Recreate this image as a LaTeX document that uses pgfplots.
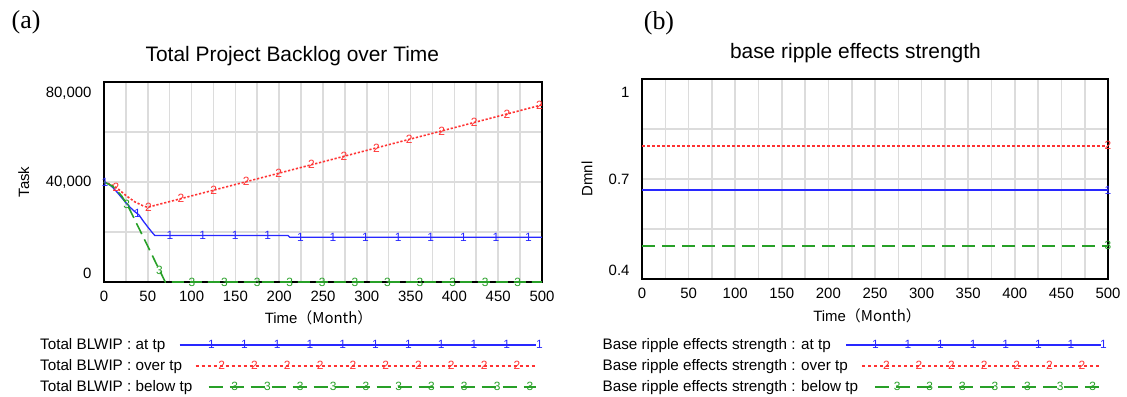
\documentclass[border=0pt]{standalone}
\usepackage{fontspec}
\setmainfont{Liberation Sans}
\newfontfamily\seriffont{Liberation Serif}
\newfontfamily\cjk{Noto Sans CJK SC}
\usepackage{pgfplots}
\pgfplotsset{compat=1.18}

\definecolor{cblue}{RGB}{40,40,255}
\definecolor{cred}{RGB}{255,50,50}
\definecolor{cgreen}{RGB}{40,160,40}
\definecolor{cgrid}{RGB}{220,220,220}

\newcommand{\fs}[1]{\fontsize{#1}{#1}\selectfont}
% legend sample: #1 colour, #2 dash, #3 start, #4 end, #5 first digit, #6 step, #7 last index, #8 digit
\newcommand{\legline}[8]{%
  \path (0bp,-2bp) (0bp,2bp);
  \draw[overlay, draw=#1, line width=1.4bp, #2] (#3bp,0pt) -- (#4bp,0pt);
  \foreach \k in {0,...,#7}{\node[overlay, text=#1, font=\fs{12}, inner sep=0pt] at ({#5bp+#6bp*\k},0pt) {#8};}
}

\pgfplotsset{
  vensim/.style={
    scale only axis,
    clip=false,
    axis line style={line width=2bp, black},
    grid=both,
    major grid style={draw=cgrid, line width=1.6bp},
    minor grid style={draw=cgrid, line width=1.6bp},
    major tick length=0pt, minor tick length=0pt,
    xmin=0, xmax=500,
    xtick={0,50,...,500},
    minor xtick={25,75,125,175,225,275,325,375,425,475},
    tick label style={font=\fs{15}},
    /pgf/number format/assume math mode=true,
    xticklabel style={yshift=-6bp},
    yticklabel style={xshift=-9bp},
    label style={font=\fs{15}},
    title style={font=\fs{21}, anchor=center},
    legend plot pos=right,
    legend cell align=left,
    legend style={draw=none, fill=none, font=\fs{15.3}, row sep=8.6bp, column sep=0pt, nodes={inner sep=0pt}, anchor=north west},
    mlab/.style={only marks, mark=text, text mark as node=true, forget plot},
  },
}

\begin{document}
\begin{tikzpicture}
\useasboundingbox (0,0) rectangle (1127bp,397bp);
\node[font=\seriffont\fs{26}] at (26bp,374.5bp) {(a)};
\node[font=\seriffont\fs{26}] at (659bp,374bp) {(b)};

% ---------------- (a) ----------------
\begin{axis}[vensim,
  at={(104bp,115bp)}, anchor=south west,
  width=438bp, height=200bp,
  ymin=0, ymax=80000,
  ytick={0,40000,80000}, minor ytick={20000,60000},
  scaled y ticks=false,
  yticklabels={{\raisebox{9bp}[\height][\depth]{0}}, {40,000}, {\raisebox{-11bp}[\height][\depth]{80,000}}},
  title={Total Project Backlog over Time},
  title style={at={(axis description cs:0.43,1)}, yshift=20bp},
  xlabel={Time\cjk{（}Month\cjk{）}},
  xlabel style={at={(axis description cs:0.49,0)}, anchor=center, yshift=-36bp},
  ylabel={Task},
  ylabel style={at={(axis description cs:-0.183,0.5)}, anchor=center},
  legend style={at={(-0.153,-0.272)}},
]
\addplot[draw=cblue, line width=1.3bp, solid,
  legend image code/.code={\legline{cblue}{solid}{-13.6}{342.4}{14.4}{32.8}{10}{1}}]
  coordinates {(0,40000)(5,39300)(10,37800)(15,35900)(20,33800)(25,31700)(30,29800)(35,28200)(40,26800)(45,24300)(50,22000)(55,19800)(58,18600)(210,18600)(212,17900)(500,17900)};
\addlegendentry{Total BLWIP : at tp}
\addplot[draw=cred, line width=1.6bp, dash pattern=on 2.2bp off 1.8bp,
  legend image code/.code={\legline{cred}{dash pattern=on 3bp off 3bp}{2.4}{342.4}{24.4}{32.8}{9}{2}}]
  coordinates {(0,40000)(8,39000)(16,37300)(25,34600)(35,32100)(45,30400)(50,29900)(100,34450)(150,39000)(200,43550)(250,48100)(300,52650)(350,57200)(400,61750)(450,66300)(500,70850)};
\addlegendentry{Total BLWIP : over tp}
\addplot[draw=cgreen, line width=1.6bp, dash pattern=on 12bp off 6bp,
  legend image code/.code={\legline{cgreen}{dash pattern=on 14bp off 7bp}{15.4}{342.4}{37.4}{32.8}{9}{3}}]
  coordinates {(0,40000)(10,38300)(20,34500)(28,30000)(40,21400)(50,14300)(60,7100)(70,0)(500,0)};
\addlegendentry{Total BLWIP : below tp}
% digit markers
\addplot[mlab, text mark={1}, text mark style={font=\fs{12}, text=cblue}]
  coordinates {(1,39950)(38.2,27300)(75.4,18600)(112.6,18600)(149.8,18600)(187,18600)(224.2,17900)(261.4,17900)(298.6,17900)(335.8,17900)(373,17900)(410.2,17900)(447.4,17900)(484.6,17900)};
\addplot[mlab, text mark={2}, text mark style={font=\fs{12}, text=cred}]
  coordinates {(13.5,37900)(50.7,29960)(87.9,33350)(125.1,36730)(162.3,40120)(199.5,43500)(236.7,46890)(273.9,50280)(311.1,53660)(348.3,57050)(385.5,60430)(422.7,63820)(459.9,67200)(497.1,70590)};
\addplot[mlab, text mark={3}, text mark style={font=\fs{12}, text=cgreen}]
  coordinates {(26,31100)(63.2,4800)(100.4,0)(137.6,0)(174.8,0)(212,0)(249.2,0)(286.4,0)(323.6,0)(360.8,0)(398,0)(435.2,0)(472.4,0)};
\end{axis}

% ---------------- (b) ----------------
\begin{axis}[vensim,
  at={(642bp,118bp)}, anchor=south west,
  width=466bp, height=200bp,
  ymin=0.4, ymax=1,
  ytick={0.4,0.7,1}, minor ytick={0.55,0.85},
  yticklabels={{\raisebox{9bp}[\height][\depth]{0.4}}, {0.7}, {\raisebox{-13bp}[\height][\depth]{1}}},
  title={base ripple effects strength},
  title style={at={(axis description cs:0.458,1)}, yshift=20bp},
  xlabel={Time\cjk{（}Month\cjk{）}},
  xlabel style={at={(axis description cs:0.483,0)}, anchor=center, yshift=-37bp},
  ylabel={Dmnl},
  ylabel style={at={(axis description cs:-0.118,0.5)}, anchor=center},
  legend style={at={(-0.0912,-0.287)}},
]
\addplot[draw=cblue, line width=1.4bp, solid,
  legend image code/.code={\legline{cblue}{solid}{-12.8}{242.4}{12.3}{32.6}{7}{1}}]
  coordinates {(0,0.667)(500,0.667)};
\addlegendentry{Base ripple effects strength : at tp}
\addplot[draw=cred, line width=1.8bp, dash pattern=on 3bp off 2bp,
  legend image code/.code={\legline{cred}{dash pattern=on 3bp off 3bp}{3.4}{242.4}{23.1}{32.6}{6}{2}}]
  coordinates {(0,0.8)(500,0.8)};
\addlegendentry{Base ripple effects strength : over tp}
\addplot[draw=cgreen, line width=2bp, dash pattern=on 13bp off 7bp,
  legend image code/.code={\legline{cgreen}{dash pattern=on 14bp off 7bp}{15.9}{242.4}{33.8}{32.6}{6}{3}}]
  coordinates {(0,0.5)(500,0.5)};
\addlegendentry{Base ripple effects strength : below tp}
\addplot[mlab, text mark={1}, text mark style={font=\fs{12}, text=cblue}] coordinates {(500,0.667)};
\addplot[mlab, text mark={2}, text mark style={font=\fs{12}, text=cred}] coordinates {(500,0.8)};
\addplot[mlab, text mark={3}, text mark style={font=\fs{12}, text=cgreen}] coordinates {(500,0.5)};
\end{axis}
\end{tikzpicture}
\end{document}
